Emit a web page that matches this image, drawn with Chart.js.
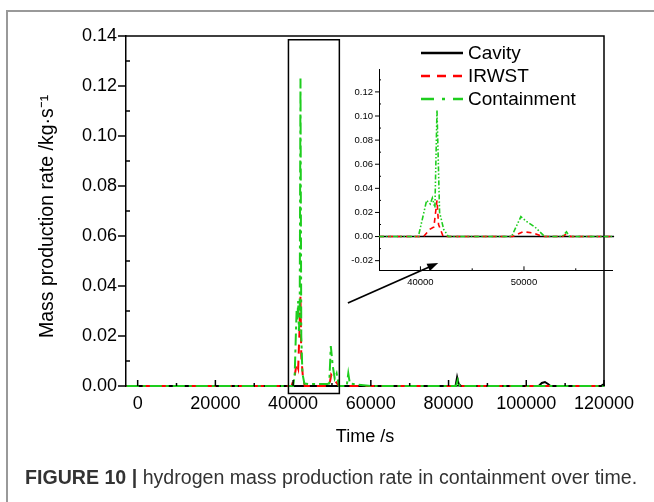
<!DOCTYPE html>
<html>
<head>
<meta charset="utf-8">
<script src="https://cdn.jsdelivr.net/npm/chart.js@4.4.1/dist/chart.umd.min.js"></script>
<style>
  html, body { margin: 0; padding: 0; background: #fff; }
  #wrap { position: relative; width: 654px; height: 502px; overflow: hidden; }
  #frame { position: absolute; left: 6px; top: 10px; width: 700px; height: 600px;
           border-top: 2px solid #999; border-left: 2px solid #999; }
  #main { position: absolute; left: 0; top: 0; }
  #inset { position: absolute; left: 330px; top: 55px; }
  #caption { position: absolute; left: 25px; top: 466px; white-space: nowrap;
             font: 19.6px 'Liberation Sans', Arial, sans-serif; color: #333; }
</style>
</head>
<body>
<div id="wrap">
  <div id="frame"></div>
  <canvas id="main" width="654" height="502"></canvas>
  <canvas id="inset" width="300" height="240"></canvas>
  <div id="caption"><b>FIGURE 10 |</b> hydrogen mass production rate in containment over time.</div>
</div>
<script>
// ---- main plot data (time in s, rate in kg/s) ----
const cavityTime = [-2800, 81800, 82200, 82600, 83200, 103200, 104000, 104800, 105600, 106200, 119200, 120000];
const cavityRate = [0, 0, 0.0035, 0.0008, 0, 0, 0.0012, 0.0016, 0.0008, 0, 0, 0.0008];

const irwstTime = [-2800, 39600, 40400, 40900, 41300, 41600, 41900, 42100, 42500, 43000, 49300, 49800, 50400, 51800, 120000];
const irwstRate = [0, 0, 0.004, 0.009, 0.007, 0.02, 0.036, 0.012, 0.004, 0, 0, 0.0045, 0.003, 0, 0];

const contTime = [-2800, 40000, 40400, 40700, 40900, 41100, 41300, 41500, 41700, 41900, 42100, 42400, 42900, 44000,
                  48800, 49300, 49700, 50200, 50700, 51200, 51800, 53800, 54200, 54600, 56500, 60000, 81900, 82400, 82900, 120000];
const contRate = [0, 0, 0.004, 0.02, 0.03, 0.026, 0.034, 0.022, 0.03, 0.123, 0.02, 0.005, 0.001, 0.0008,
                  0.0008, 0.001, 0.016, 0.008, 0.003, 0.005, 0, 0, 0.005, 0.001, 0.0006, 0, 0, 0.0025, 0, 0];

const xTicks = [0, 20000, 40000, 60000, 80000, 100000, 120000];
const yTicks = [0, 0.02, 0.04, 0.06, 0.08, 0.10, 0.12, 0.14];

// ---- inset (zoomed) data ----
const insetCavityTime = [36000, 58700];
const insetCavityRate = [0, 0];

const insetIrwstTime = [36000, 40300, 40900, 41300, 41600, 41750, 42200, 48900, 49900, 50900, 51800, 53700, 54100, 54500, 58700];
const insetIrwstRate = [0, 0, 0.006, 0.008, 0.03, 0.01, 0, 0, 0.004, 0.003, 0, 0, 0.002, 0, 0];

const insetContTime = [36000, 39800, 40600, 40950, 41150, 41400, 41600, 41850, 42250, 42700,
                       48800, 49700, 50250, 51050, 52000, 53700, 54100, 54400, 58700];
const insetContRate = [0, 0, 0.03, 0.027, 0.032, 0.024, 0.105, 0.02, 0.006, 0,
                       0, 0.0165, 0.0125, 0.008, 0, 0, 0.004, 0, 0];

const insetXTicks = [40000, 50000];
const insetYTicks = [-0.02, 0, 0.02, 0.04, 0.06, 0.08, 0.10, 0.12];

// zoom box and arrow, in main-plot data units
const zoomBoxTime = [38800, 51900];
const zoomBoxRate = [-0.003, 0.1385];
const arrowFrom = [54100, 0.0332];
const arrowTo = [77350, 0.0492];

const family = "'Liberation Sans', Arial, sans-serif";
const green = 'rgb(30, 205, 30)';
const red = 'rgb(255, 0, 0)';

function series(label, xs, ys, color, dash, width, order) {
  return {
    label: label,
    data: xs.map((t, i) => ({ x: t, y: ys[i] })),
    borderColor: color,
    borderDash: dash,
    borderWidth: width,
    pointRadius: 0,
    tension: 0,
    fill: false,
    clip: 4,
    order: order
  };
}

function fixedTicks(values) {
  return scale => { scale.ticks = values.map(v => ({ value: v })); };
}

function line(ctx, x1, y1, x2, y2) {
  ctx.beginPath(); ctx.moveTo(x1, y1); ctx.lineTo(x2, y2); ctx.stroke();
}

// frame, minor ticks, zoom box, arrow and legend of the main plot
const mainDecor = {
  id: 'mainDecor',
  afterDraw(chart) {
    const { ctx, chartArea: a, scales: { x, y } } = chart;
    ctx.save();
    ctx.strokeStyle = '#000';
    ctx.lineWidth = 1.5;
    ctx.beginPath();
    ctx.moveTo(a.left, a.top); ctx.lineTo(a.right, a.top); ctx.lineTo(a.right, a.bottom);
    ctx.stroke();

    // x ticks point inward
    for (let v = 0; v <= 120000; v += 10000) {
      const px = x.getPixelForValue(v);
      line(ctx, px, a.bottom, px, a.bottom - (v % 20000 ? 3 : 6));
    }
    // y: majors outward, minors inward
    for (let i = 0; i <= 14; i++) {
      const py = y.getPixelForValue(i * 0.01);
      if (i % 2) line(ctx, a.left, py, a.left + 4, py);
      else line(ctx, a.left - 8, py, a.left, py);
    }

    // zoom rectangle
    const bx1 = x.getPixelForValue(zoomBoxTime[0]), bx2 = x.getPixelForValue(zoomBoxTime[1]);
    const by1 = y.getPixelForValue(zoomBoxRate[1]), by2 = y.getPixelForValue(zoomBoxRate[0]);
    ctx.strokeRect(bx1, by1, bx2 - bx1, by2 - by1);

    // arrow
    const ax1 = x.getPixelForValue(arrowFrom[0]), ay1 = y.getPixelForValue(arrowFrom[1]);
    const ax2 = x.getPixelForValue(arrowTo[0]), ay2 = y.getPixelForValue(arrowTo[1]);
    const ang = Math.atan2(ay2 - ay1, ax2 - ax1);
    ctx.lineWidth = 1.8;
    line(ctx, ax1, ay1, ax2 - 8 * Math.cos(ang), ay2 - 8 * Math.sin(ang));
    ctx.fillStyle = '#000';
    ctx.beginPath();
    ctx.moveTo(ax2, ay2);
    ctx.lineTo(ax2 - 11 * Math.cos(ang) + 4 * Math.sin(ang), ay2 - 11 * Math.sin(ang) - 4 * Math.cos(ang));
    ctx.lineTo(ax2 - 11 * Math.cos(ang) - 4 * Math.sin(ang), ay2 - 11 * Math.sin(ang) + 4 * Math.cos(ang));
    ctx.closePath();
    ctx.fill();

    // legend
    ctx.font = '19px ' + family;
    ctx.textBaseline = 'middle';
    chart.data.datasets.forEach((ds, i) => {
      const ly = 53 + i * 23;
      ctx.strokeStyle = ds.borderColor;
      ctx.lineWidth = 2.5;
      ctx.setLineDash(ds.legendDash || ds.borderDash);
      line(ctx, 421, ly, 463, ly);
      ctx.setLineDash([]);
      ctx.fillStyle = '#000';
      ctx.fillText(ds.label, 468, ly + 1);
    });
    ctx.restore();
  }
};

const mainData = [
  series('Cavity', cavityTime, cavityRate, '#000', [], 2, 2),
  series('IRWST', irwstTime, irwstRate, red, [9, 7], 2, 1),
  series('Containment', contTime, contRate, green, [12, 4, 3, 4], 2, 0)
];
mainData[2].legendDash = [13, 8, 3, 8];

new Chart(document.getElementById('main'), {
  type: 'line',
  data: { datasets: mainData },
  options: {
    responsive: false,
    animation: false,
    layout: { padding: { top: 36, right: 50, bottom: 0, left: 0 } },
    plugins: { legend: { display: false }, tooltip: { enabled: false } },
    scales: {
      x: {
        type: 'linear', min: -3000, max: 120000,
        afterBuildTicks: fixedTicks(xTicks),
        afterFit: s => { s.height = 116; },
        grid: { display: false, drawTicks: false },
        border: { display: true, color: '#000', width: 1.5 },
        ticks: { maxRotation: 0, autoSkip: false, padding: 7,
                 color: '#000', font: { size: 18, family: family }, callback: v => String(v) },
        title: { display: true, text: 'Time /s', color: '#000', font: { size: 18, family: family },
                 padding: { top: 0, bottom: 54 } }
      },
      y: {
        type: 'linear', min: 0, max: 0.14,
        afterBuildTicks: fixedTicks(yTicks),
        afterFit: s => { s.width = 126; },
        grid: { display: false, drawTicks: false },
        border: { display: true, color: '#000', width: 1.5 },
        ticks: { padding: 9, color: '#000', font: { size: 18, family: family },
                 callback: v => v.toFixed(2) },
        title: { display: true, text: 'Mass production rate /kg·s⁻¹  ', color: '#000',
                 font: { size: 19.5, family: family }, padding: { top: 36, bottom: 0 } }
      }
    }
  },
  plugins: [mainDecor]
});

// ticks of the inset
const insetDecor = {
  id: 'insetDecor',
  afterDraw(chart) {
    const { ctx, chartArea: a, scales: { x, y } } = chart;
    ctx.save();
    ctx.strokeStyle = '#000';
    ctx.lineWidth = 1;
    for (let v = 40000; v <= 58000; v += 5000) {
      const px = x.getPixelForValue(v);
      line(ctx, px, a.bottom, px, a.bottom - (v % 10000 ? 2 : 4));
    }
    for (let i = -2; i <= 13; i++) {
      const py = y.getPixelForValue(i * 0.01);
      if (i % 2) line(ctx, a.left, py, a.left + 2, py);
      else line(ctx, a.left - 4, py, a.left, py);
    }
    ctx.restore();
  }
};

new Chart(document.getElementById('inset'), {
  type: 'line',
  data: {
    datasets: [
      series('Cavity', insetCavityTime, insetCavityRate, '#000', [], 1.5, 2),
      series('IRWST', insetIrwstTime, insetIrwstRate, red, [5, 4], 1.6, 1),
      series('Containment', insetContTime, insetContRate, green, [5, 2, 1.5, 2, 1.5, 2], 1.6, 0)
    ]
  },
  options: {
    responsive: false,
    animation: false,
    layout: { padding: { top: 14, right: 18, bottom: 0, left: 0 } },
    plugins: { legend: { display: false }, tooltip: { enabled: false } },
    scales: {
      x: {
        type: 'linear', min: 36000, max: 58500,
        afterBuildTicks: fixedTicks(insetXTicks),
        afterFit: s => { s.height = 24.7; },
        grid: { display: false, drawTicks: false },
        border: { display: true, color: '#000', width: 1 },
        ticks: { maxRotation: 0, autoSkip: false, padding: 6,
                 color: '#000', font: { size: 9.5, family: family }, callback: v => String(v) }
      },
      y: {
        type: 'linear', min: -0.028, max: 0.139,
        afterBuildTicks: fixedTicks(insetYTicks),
        afterFit: s => { s.width = 49; },
        grid: { display: false, drawTicks: false },
        border: { display: true, color: '#000', width: 1 },
        ticks: { padding: 6, color: '#000',
                 font: { size: 9.5, family: family }, callback: v => v.toFixed(2) }
      }
    }
  },
  plugins: [insetDecor]
});
</script>
</body>
</html>
